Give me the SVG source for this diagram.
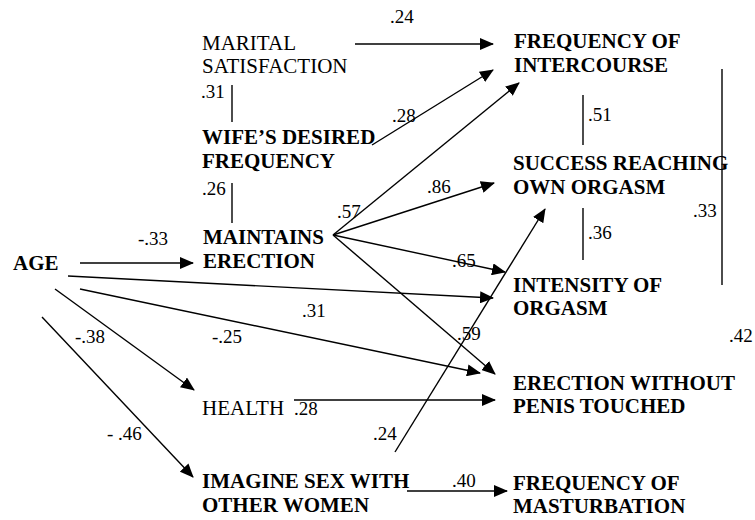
<svg xmlns="http://www.w3.org/2000/svg" width="755" height="520" viewBox="0 0 755 520">
<defs>
<style>
text{fill:#000;font-family:'Liberation Serif','Times New Roman',serif}
.n{font-size:21px}
.b{font-size:21px;font-weight:bold}
.l{font-size:19px}
.c line{stroke:#000;stroke-width:1.4}
.a{marker-end:url(#ah)}
</style>
<marker id="ah" viewBox="0 0 14 12" refX="13" refY="6" markerWidth="14" markerHeight="12" markerUnits="userSpaceOnUse" orient="auto">
<path d="M0,0 L14,6 L0,12 z" fill="#000"/>
</marker>
</defs>
<rect width="755" height="520" fill="#fff"/>
<g id="connectors" class="c">
<line class="a" x1="355" y1="44" x2="493" y2="44"/>
<line class="a" x1="372" y1="145" x2="493" y2="70"/>
<line class="a" x1="333" y1="235" x2="519" y2="83"/>
<line class="a" x1="333" y1="235" x2="494" y2="183"/>
<line class="a" x1="333" y1="235" x2="505" y2="272"/>
<line class="a" x1="333" y1="235" x2="495" y2="374"/>
<line class="a" x1="80" y1="263" x2="193" y2="263"/>
<line class="a" x1="68" y1="276" x2="493" y2="298"/>
<line class="a" x1="80" y1="289" x2="480" y2="373"/>
<line class="a" x1="55" y1="289" x2="194" y2="390"/>
<line class="a" x1="42" y1="317" x2="193" y2="477"/>
<line class="a" x1="294" y1="400" x2="495" y2="400"/>
<line class="a" x1="395" y1="452" x2="545" y2="209"/>
<line class="a" x1="407" y1="491" x2="507" y2="491"/>
<line x1="232" y1="85" x2="232" y2="122"/>
<line x1="232" y1="183" x2="232" y2="223"/>
<line x1="583" y1="95" x2="583" y2="145"/>
<line x1="583" y1="208" x2="583" y2="260"/>
<line x1="722" y1="69" x2="722" y2="285"/>
</g>
<g id="marital"><text class="n" x="202" y="50">MARITAL</text><text class="n" x="202" y="73">SATISFACTION</text></g>
<g id="wife"><text class="b" x="202" y="144">WIFE’S DESIRED</text><text class="b" x="202" y="168">FREQUENCY</text></g>
<g id="maintains"><text class="b" x="203" y="244">MAINTAINS</text><text class="b" x="203" y="268">ERECTION</text></g>
<g id="age"><text class="b" x="13" y="270">AGE</text></g>
<g id="health"><text class="n" x="202" y="415">HEALTH</text></g>
<g id="imagine"><text class="b" x="202" y="488">IMAGINE SEX WITH</text><text class="b" x="202" y="512">OTHER WOMEN</text></g>
<g id="freqint"><text class="b" x="514" y="48">FREQUENCY OF</text><text class="b" x="514" y="72">INTERCOURSE</text></g>
<g id="success"><text class="b" x="513" y="170">SUCCESS REACHING</text><text class="b" x="513" y="194">OWN ORGASM</text></g>
<g id="intensity"><text class="b" x="513" y="292">INTENSITY OF</text><text class="b" x="513" y="315">ORGASM</text></g>
<g id="erection"><text class="b" x="513" y="390">ERECTION WITHOUT</text><text class="b" x="513" y="413">PENIS TOUCHED</text></g>
<g id="masturbation"><text class="b" x="513" y="490">FREQUENCY OF</text><text class="b" x="513" y="513">MASTURBATION</text></g>
<g id="labels">
<text class="l" x="390" y="23">.24</text>
<text class="l" x="201" y="98">.31</text>
<text class="l" x="392" y="122">.28</text>
<text class="l" x="202" y="195">.26</text>
<text class="l" x="138" y="245">-.33</text>
<text class="l" x="337" y="218">.57</text>
<text class="l" x="427" y="193">.86</text>
<text class="l" x="588" y="121">.51</text>
<text class="l" x="588" y="239">.36</text>
<text class="l" x="693" y="217">.33</text>
<text class="l" x="452" y="267">.65</text>
<text class="l" x="302" y="317">.31</text>
<text class="l" x="212" y="343">-.25</text>
<text class="l" x="75" y="343">-.38</text>
<text class="l" x="457" y="340">.59</text>
<text class="l" x="729" y="342">.42</text>
<text class="l" x="294" y="415">.28</text>
<text class="l" x="373" y="440">.24</text>
<text class="l" x="107" y="440">- .46</text>
<text class="l" x="452" y="487">.40</text>
</g>
</svg>
